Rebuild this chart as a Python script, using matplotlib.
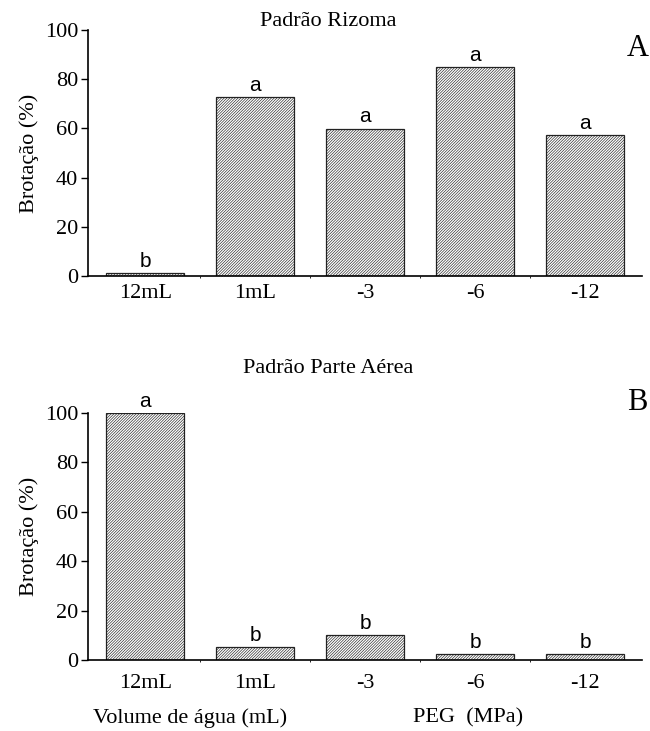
import matplotlib
matplotlib.use("Agg")
import matplotlib.pyplot as plt
import numpy as np

# tratamentos
categorias = ["12mL", "1mL", "-3", "-6", "-12"]
rizoma = [1.1, 72.7, 59.9, 84.9, 57.3]
rizoma_letras = ["b", "a", "a", "a", "a"]
aerea = [100, 5.1, 10.0, 2.4, 2.4]
aerea_letras = ["a", "b", "b", "b", "b"]

plt.rcParams['hatch.linewidth'] = 0.45
plt.rcParams['hatch.color'] = '#3a3a3a'
serif = "Liberation Serif"
sans = "Liberation Sans"

fig = plt.figure(figsize=(6.5, 7.31), dpi=100)
ax1 = fig.add_axes([0.1354, 0.6224, 0.8526, 0.3366])
ax2 = fig.add_axes([0.1354, 0.0971, 0.8526, 0.3379])


def painel(ax, valores, letras, titulo, ytit, xpad):
    x = np.arange(len(categorias))
    ax.bar(x, valores, width=0.71, color='white', edgecolor='#222222',
           hatch='////////////', linewidth=0.9)
    for xi, v, l in zip(x, valores, letras):
        ax.text(xi, v + 1.0, l, ha='center', va='bottom', fontsize=15,
                family=sans)
    ax.set_xlim(-0.52, 4.52)
    ax.set_ylim(0, 100)
    ax.set_yticks([0, 20, 40, 60, 80, 100])
    ax.set_yticklabels(["0", "20", "40", "60", "80", "100"], family=serif,
                       fontsize=16)
    ax.set_xticks(x)
    ax.set_xticklabels(categorias, family=serif, fontsize=16)
    ax.tick_params(axis='x', length=0, pad=xpad)
    ax.set_xticks(x[:-1] + 0.5, minor=True)
    ax.tick_params(axis='x', which='minor', length=1.5, width=0.6)
    ax.tick_params(axis='y', length=5, width=1, pad=2, direction='out')
    ax.spines['top'].set_visible(False)
    ax.spines['right'].set_visible(False)
    ax.spines['left'].set_linewidth(1.2)
    ax.spines['bottom'].set_linewidth(1.2)
    ax.set_ylabel("Brotação (%)", family=serif, fontsize=16, labelpad=4)
    ax.text(0.433, ytit, titulo, transform=ax.transAxes, ha='center',
            va='center', family=serif, fontsize=16)
    return ax


painel(ax1, rizoma, rizoma_letras, "Padrão Rizoma", 1.035, 6)
painel(ax2, aerea, aerea_letras, "Padrão Parte Aérea", 1.18, 10)

fig.text(0.981, 0.934, "A", ha='center', va='center', family=serif, fontsize=22)
fig.text(0.981, 0.449, "B", ha='center', va='center', family=serif, fontsize=22)

fig.text(0.292, 0.018, "Volume de água (mL)", ha='center', va='center',
         family=serif, fontsize=16)
fig.text(0.72, 0.018, "PEG  (MPa)", ha='center', va='center',
         family=serif, fontsize=16)

fig.savefig("out.png", dpi=100)
